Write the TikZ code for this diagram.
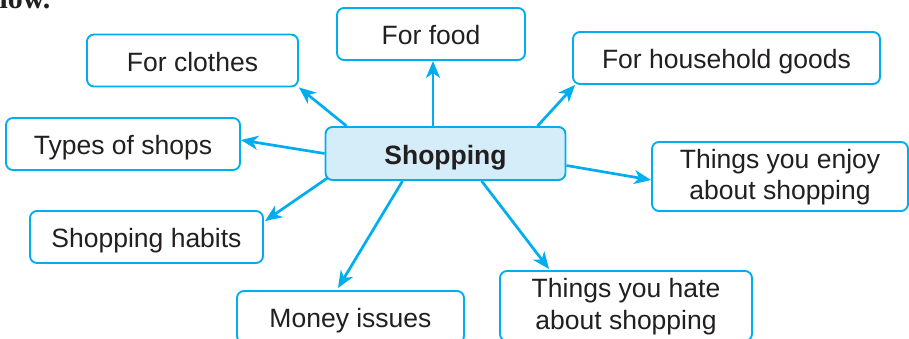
\documentclass[tikz,border=0pt]{standalone}
\usepackage{fontspec}
\setmainfont{Liberation Sans}
\newfontfamily\headserif{Liberation Serif}
\usetikzlibrary{arrows.meta}
\definecolor{cyanline}{HTML}{00AEEF}
\definecolor{shopfill}{HTML}{D5ECF9}
\definecolor{textdark}{HTML}{231F20}
\begin{document}
\begin{tikzpicture}[x=1pt,y=1pt,
  box/.style={draw=cyanline, line width=1.9pt, rounded corners=7pt, fill=white,
    text=textdark, inner sep=0pt, text height=22pt, text depth=0pt,
    font=\fontsize{26.5}{31}\selectfont},
  hub/.style={box, fill=shopfill, font=\fontsize{26.5}{31}\selectfont\bfseries},
  lbl/.style={text=textdark, inner sep=0pt, anchor=base,
    font=\fontsize{26.5}{31}\selectfont},
  link/.style={draw=cyanline, line width=2.7pt,
    -{Stealth[length=17pt,width=14pt,inset=5pt]}}]
\useasboundingbox (0,0) rectangle (909,339);

\node[anchor=base east, text=textdark, font=\headserif\bfseries\fontsize{30}{32}\selectfont] (head) at (54,330) {low.};

\node[hub, minimum width=240pt, minimum height=53pt] (shop) at (445.5,185.5) {Shopping};
\node[box, minimum width=188pt, minimum height=52pt] (food) at (431,305) {For food};
\node[box, minimum width=211pt, minimum height=52pt] (clothes) at (192.5,278.5) {For clothes};
\node[box, minimum width=307pt, minimum height=52pt] (house) at (726.5,281) {For household goods};
\node[box, minimum width=234pt, minimum height=52pt] (types) at (123,195) {Types of shops};
\node[box, minimum width=256pt, minimum height=69pt] (enjoy) at (780,162.5) {};
\node[lbl] (enjoyA) at ([yshift=8pt]enjoy.center) {Things you enjoy};
\node[lbl] (enjoyB) at ([yshift=-23.5pt]enjoy.center) {about shopping};
\node[box, minimum width=233pt, minimum height=52pt] (habits) at (146.5,102) {Shopping habits};
\node[box, minimum width=227pt, minimum height=52pt] (money) at (350.5,22) {Money issues};
\node[box, minimum width=252pt, minimum height=70pt] (hate) at (626,33) {};
\node[lbl] (hateA) at ([yshift=8pt]hate.center) {Things you hate};
\node[lbl] (hateB) at ([yshift=-23.5pt]hate.center) {about shopping};

\draw[link] ([xshift=-12.5pt]shop.north) -- ([xshift=2pt]food.south);
\draw[link] ([xshift=22pt]shop.north west) -- (clothes.south east);
\draw[link] ([xshift=-29pt]shop.north east) -- ([xshift=3pt]house.south west);
\draw[link] (shop.west) -- ([yshift=4pt]types.east);
\draw[link] ([yshift=-12pt]shop.east) -- ([yshift=-3.5pt]enjoy.west);
\draw[link] ([shift={(3pt,3pt)}]shop.south west) -- ([shift={(1pt,-11pt)}]habits.north east);
\draw[link] ([xshift=78pt]shop.south west) -- ([shift={(-12.5pt,2pt)}]money.north);
\draw[link] ([xshift=157pt]shop.south west) -- ([shift={(50pt,1pt)}]hate.north west);
\end{tikzpicture}
\end{document}
